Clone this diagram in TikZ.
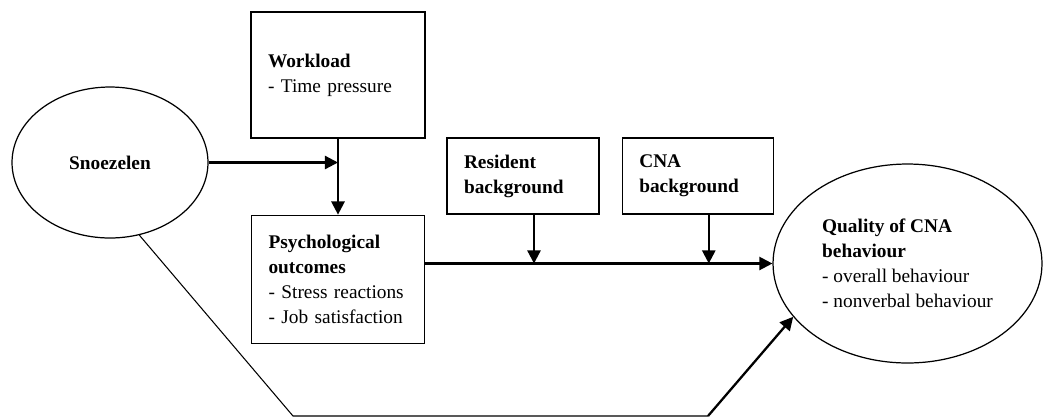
\documentclass[tikz,border=0pt]{standalone}
\usepackage{fontspec}
\setmainfont{Liberation Serif}
\usetikzlibrary{positioning,arrows.meta,shapes.geometric,calc}

\begin{document}
\begin{tikzpicture}[x=0.02cm, y=-0.02cm, font=\fontsize{11}{14.2}\selectfont,
		box/.style={draw, line width=0.75pt, align=left, inner xsep=0.34cm, inner ysep=0pt},
		oval/.style={draw, ellipse, line width=0.7pt, align=left, inner sep=0pt},
		arr/.style={line width=1.3pt, -{Triangle[length=7.5pt, width=7.5pt]}},
		link/.style={line width=0.6pt}]
		\useasboundingbox (0,0) rectangle (1043,417);
		\node[oval, minimum width=3.92cm, minimum height=3.02cm] (snoez) at (110,162.5) {\textbf{Snoezelen}};
		\node[box, text width=2.80cm, minimum height=2.52cm] (workload) at (338,75) {\textbf{Workload}\\- Time pressure};
		\node[box, text width=2.78cm, minimum height=2.56cm, below=1.52cm of workload] (psych) {\textbf{Psychological}\\\textbf{outcomes}\\- Stress reactions\\- Job satisfaction};
		\node[box, text width=2.36cm, minimum height=1.52cm] (resident) at (523,176) {\textbf{Resident}\\\textbf{background}};
		\node[box, text width=2.34cm, minimum height=1.52cm, right=0.44cm of resident] (cna) {\textbf{CNA}\\\textbf{background}};
		\node[oval, minimum width=5.38cm, minimum height=3.98cm] (quality) at (907.5,263.5) {\textbf{Quality of CNA}\\\textbf{behaviour}\\- overall behaviour\\- nonverbal behaviour};
		% moderators drop onto the main path
		\coordinate (resdrop) at ($(resident.south)+(11,0)$);
		\coordinate (cnadrop) at ($(cna.south)+(11,0)$);
		\coordinate (lowleft) at (293,416);
		\coordinate (lowright) at (708,416);
		\draw[arr] (snoez.east) -- (snoez.east -| workload.south);
		\draw[arr] (workload.south) -- (psych.north);
		\draw[arr] (psych.east |- quality.west) -- (quality.west);
		\draw[arr] (resdrop) -- (resdrop |- quality.west);
		\draw[arr] (cnadrop) -- (cnadrop |- quality.west);
		% direct path
		\draw[link] (snoez.-68) -- (lowleft) -- (lowright);
		\draw[arr] (lowright) -- (quality.205);
	\end{tikzpicture}
\end{document}
